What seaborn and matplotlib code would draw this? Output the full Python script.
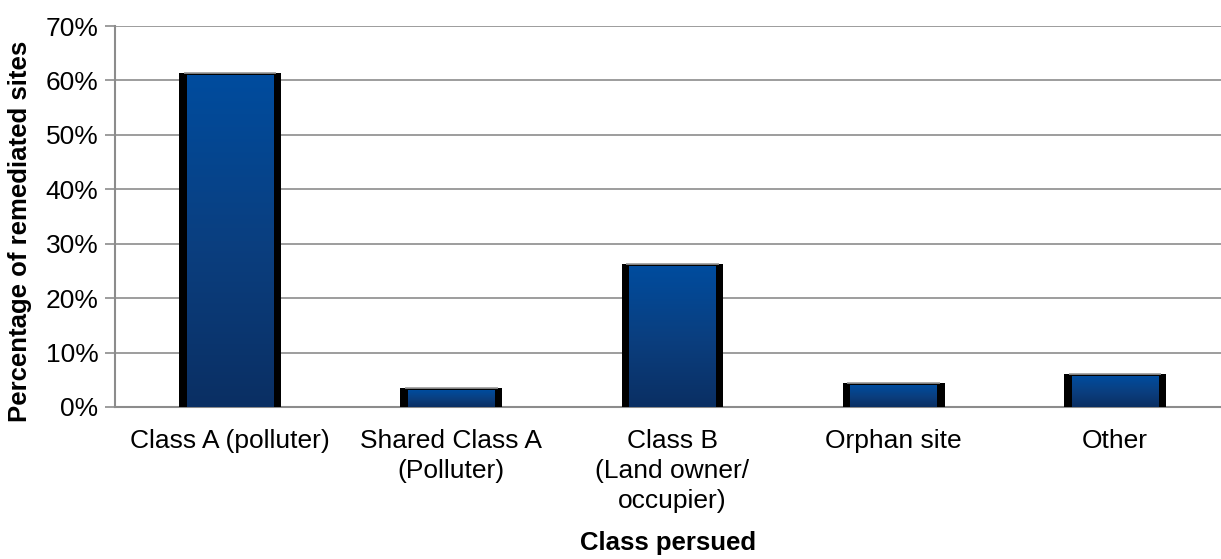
import numpy as np
import pandas as pd
import seaborn as sns
import matplotlib.pyplot as plt
from matplotlib.ticker import PercentFormatter

# values
categories = ["Class A (polluter)", "Shared Class A\n(Polluter)",
              "Class B\n(Land owner/\noccupier)", "Orphan site", "Other"]
shares = [61.3, 3.5, 26.3, 4.4, 6.1]
y_ticks = [0, 10, 20, 30, 40, 50, 60, 70]

df = pd.DataFrame({"cls": categories, "pct": shares})

sns.set_theme(style="white")
plt.rcParams["font.family"] = ["Liberation Sans", "DejaVu Sans"]
plt.rcParams["text.color"] = "black"
plt.rcParams["xtick.color"] = "black"
plt.rcParams["ytick.color"] = "black"
plt.rcParams["axes.labelcolor"] = "black"

fig = plt.figure(figsize=(12.21, 5.59), dpi=100)
ax = fig.add_axes([115 / 1221, (559 - 407) / 559, (1221 - 115) / 1221, (407 - 26) / 559])

# black "sides" of the bars
sns.barplot(data=df, x="cls", y="pct", color="black", width=0.46,
            edgecolor="black", linewidth=0, ax=ax, zorder=3)

ax.set_ylim(0, 70)
ax.set_xlim(-0.52, len(categories) - 0.52)

# blue gradient face inset into each bar
grad = np.linspace(0, 1, 256).reshape(-1, 1)
cmap = sns.blend_palette(["#0b2f63", "#0a3f80", "#004c9e"], as_cmap=True)
for p in ax.patches:
    x0, w, h = p.get_x(), p.get_width(), p.get_height()
    inset = w * 0.075
    ax.imshow(grad, cmap=cmap, origin="lower", aspect="auto",
              extent=(x0 + inset, x0 + w - inset, 0, h - 0.45), zorder=4)
    # light rim on top
    ax.plot([x0 + inset * 0.6, x0 + w - inset * 0.6], [h, h],
            color="#9a9a9a", lw=1.2, zorder=5, solid_capstyle="butt")

ax.set_yticks(y_ticks)
ax.yaxis.set_major_formatter(PercentFormatter(decimals=0))
ax.yaxis.grid(True, color="#8c8c8c", linewidth=1.2)
ax.set_axisbelow(True)

for side in ["top", "right"]:
    ax.spines[side].set_visible(False)
for side in ["left", "bottom"]:
    ax.spines[side].set_color("#8c8c8c")
    ax.spines[side].set_linewidth(1.5)

ax.tick_params(axis="y", which="major", left=True, length=7, width=1.2,
               color="#8c8c8c", labelcolor="black", labelsize=19, pad=5)
ax.tick_params(axis="x", bottom=False, labelcolor="black", labelsize=19, pad=10)
for lbl in ax.get_xticklabels():
    lbl.set_linespacing(1.32)

ax.set_xlabel("Class persued", fontsize=18.5, fontweight="bold", labelpad=13)
ax.set_ylabel("Percentage of remediated sites", fontsize=18.5, fontweight="bold")
ax.yaxis.set_label_coords(-0.075, 0.46)

fig.savefig("out.png", dpi=100)
